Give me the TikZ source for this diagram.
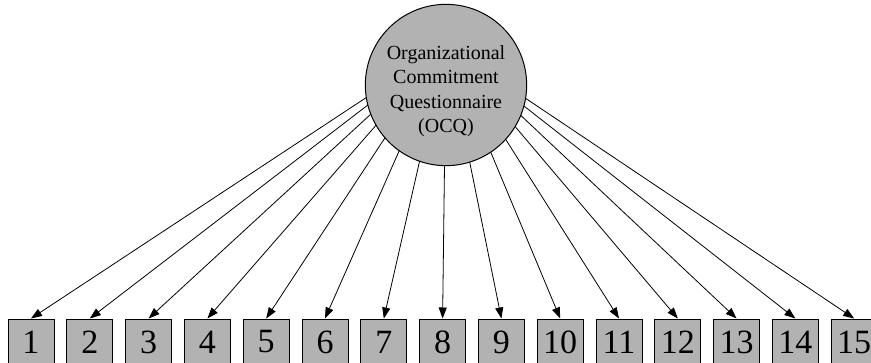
\documentclass[tikz,border=0pt]{standalone}
\usepackage{fontspec}
\setmainfont{Liberation Serif}
\usetikzlibrary{arrows.meta}
\tikzset{
  item/.style={draw, line width=1pt, fill=black!30, minimum size=46pt, inner sep=0pt,
    font=\fontsize{34}{34}\selectfont},
  factor/.style={draw, circle, line width=1pt, fill=black!30, minimum size=152pt, inner sep=0pt,
    font=\fontsize{20}{24.5}\selectfont},
  load/.style={-{Triangle[length=11pt,width=8pt]}, line width=0.8pt}
}
\begin{document}
\begin{tikzpicture}[x=1pt,y=-1pt]
      \useasboundingbox (0,0) rectangle (871,362);
      \draw
        (31.0,342) node[item] (1){1}
        (89.8,342) node[item] (2){2}
        (148.6,342) node[item] (3){3}
        (207.4,342) node[item] (4){4}
        (266.2,342) node[item] (5){5}
        (325.0,342) node[item] (6){6}
        (383.8,342) node[item] (7){7}
        (442.6,342) node[item] (8){8}
        (501.4,342) node[item] (9){9}
        (560.2,342) node[item] (10){10}
        (619.0,342) node[item] (11){11}
        (677.8,342) node[item] (12){12}
        (736.6,342) node[item] (13){13}
        (795.4,342) node[item] (14){14}
        (854.2,342) node[item] (15){15};
      % the loadings meet in a point above the centre, the circle covers them
      \coordinate (focus) at (446,45);
      \begin{scope}[load]
        \draw (focus) to (1.north);
        \draw (focus) to (2.north);
        \draw (focus) to (3.north);
        \draw (focus) to (4.north);
        \draw (focus) to (5.north);
        \draw (focus) to (6.north);
        \draw (focus) to (7.north);
        \draw (focus) to (8.north);
        \draw (focus) to (9.north);
        \draw (focus) to (10.north);
        \draw (focus) to (11.north);
        \draw (focus) to (12.north);
        \draw (focus) to (13.north);
        \draw (focus) to (14.north);
        \draw (focus) to (15.north);
      \end{scope}
      \node[factor] (ocq) at (446,85) {\raisebox{0pt}[\dimexpr\height+12pt][\depth]{%
        \begin{tabular}{@{}c@{}}Organizational\\Commitment\\Questionnaire\\(OCQ)\end{tabular}}};
    \end{tikzpicture}
\end{document}
